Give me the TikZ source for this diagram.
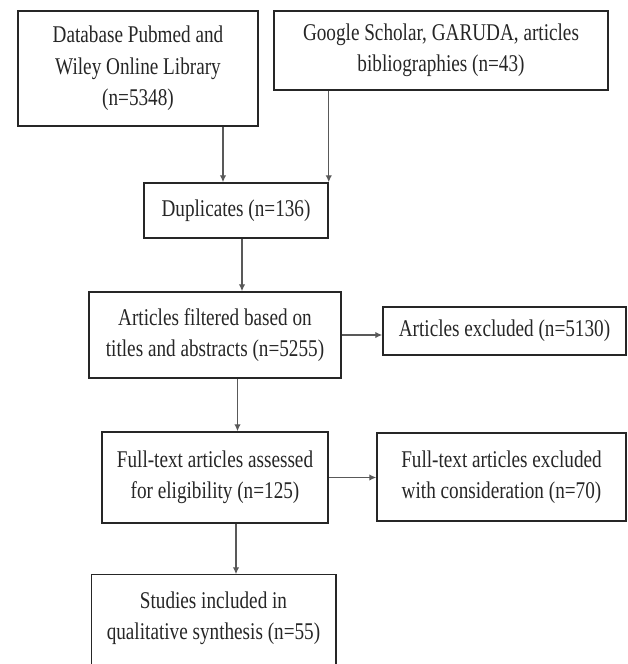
\documentclass[tikz,border=0pt]{standalone}
\usepackage{fontspec}
\setmainfont[FakeStretch=0.8]{Liberation Serif}
\usepackage{tikz}
\usetikzlibrary{arrows.meta}
\usetikzlibrary{positioning}
\usetikzlibrary{calc}

\tikzset{%
    boxline/.style={draw=black!85, line width=1.5pt},
    box/.style={boxline, inner sep=0pt, align=center, text=black!85, font={\fontsize{24}{31.5}\selectfont}},
    flow/.style={draw=black!65, line width=1.4pt, -{Latex[length=7pt,width=6.5pt]}},
}

\begin{document}
\begin{tikzpicture}[x=1pt, y=-1pt]
\clip (0,0) rectangle (628,664);
\node[box, minimum width=240pt, minimum height=115pt] (n1) at (138,68.5) {Database Pubmed and\\Wiley Online Library\\(n=5348)};
\node[box, minimum width=334pt, minimum height=79pt] (n2) at (441,50.5) {Google Scholar, GARUDA, articles\\bibliographies (n=43)};
\node[box, minimum width=184pt, minimum height=55pt] (n3) at (236,210.5) {Duplicates (n=136)};
\node[box, minimum width=252pt, minimum height=86pt] (n4) at (215,335) {Articles filtered based on\\titles and abstracts (n=5255)};
\node[box, minimum width=243pt, minimum height=48pt] (n5) at (504.5,331) {Articles excluded (n=5130)};
\node[box, minimum width=226pt, minimum height=91pt] (n6) at (215,477.5) {Full-text articles assessed\\for eligibility (n=125)};
\node[box, minimum width=249pt, minimum height=88pt] (n7) at (501.5,477) {Full-text articles excluded\\with consideration (n=70)};
\node[box, draw=none, minimum width=243pt, minimum height=87pt] (n8) at (213.5,618.5) {Studies included in\\qualitative synthesis (n=55)};
\draw[boxline] ([yshift=-20pt]n8.south west) -- (n8.north west) -- (n8.north east) -- ([yshift=-20pt]n8.south east);
\coordinate (a1) at ([xshift=85pt]n1.south);
\coordinate (a3) at ([xshift=6pt]n3.south);
\coordinate (a4) at ([xshift=22.5pt]n4.south);
\coordinate (a6) at ([xshift=21pt]n6.south);
\draw[flow] (a1) -- (a1 |- n3.north);
\draw[flow] (n3.north east |- n2.south) -- (n3.north east);
\draw[flow] (a3) -- (a3 |- n4.north);
\draw[flow] (n4.east) -- (n4.east -| n5.west);
\draw[flow] (a4) -- (a4 |- n6.north);
\draw[flow] (n6.east) -- (n6.east -| n7.west);
\draw[flow] (a6) -- (a6 |- n8.north);
\end{tikzpicture}
\end{document}
